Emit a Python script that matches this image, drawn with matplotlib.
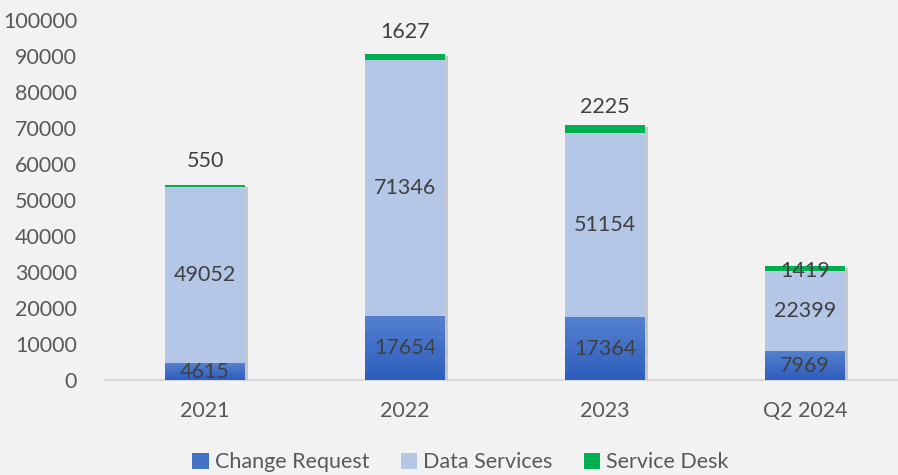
import matplotlib
matplotlib.use("Agg")
import matplotlib.pyplot as plt
import matplotlib.patheffects as pe
import numpy as np
from matplotlib.colors import LinearSegmentedColormap

categories = ["2021", "2022", "2023", "Q2 2024"]
change_request = [4615, 17654, 17364, 7969]
data_services = [49052, 71346, 51154, 22399]
service_desk = [550, 1627, 2225, 1419]
series_names = ["Change Request", "Data Services", "Service Desk"]
y_ticks = [0, 10000, 20000, 30000, 40000, 50000, 60000, 70000, 80000, 90000, 100000]
# manual offsets (pixels) of service desk labels above stack top
sd_label_offsets = [24, 22, 18, -5]

plt.rcParams['font.family'] = ['Lato', 'DejaVu Sans']
bg = "#F2F2F2"
fs = 15.5
fig = plt.figure(figsize=(8.98, 4.75), dpi=100, facecolor=bg)
ax = fig.add_axes([105/898, 95/475, 793/898, 360/475], facecolor=bg)

x = np.arange(len(categories))
w = 0.4
b1 = ax.bar(x, change_request, w, color="#4472C4", label=series_names[0], zorder=3)
bottom2 = np.array(change_request)
b2 = ax.bar(x, data_services, w, bottom=bottom2, color="#B4C7E7", label=series_names[1], zorder=3)
bottom3 = bottom2 + np.array(data_services)
b3 = ax.bar(x, service_desk, w, bottom=bottom3, color="#00B050", label=series_names[2], zorder=3)

# shadow behind full stack
for i in range(len(x)):
    tot = bottom3[i] + service_desk[i]
    r = plt.Rectangle((x[i] - w/2, 0), w, tot, facecolor="#BBBBBB", edgecolor="none",
                      zorder=2, transform=ax.transData)
    r.set_path_effects([pe.SimplePatchShadow(offset=(2.5, -1.5), shadow_rgbFace="#AAAAAA", alpha=0.6)])
    ax.add_patch(r)

# gradient for change request bars
cmap = LinearSegmentedColormap.from_list("cr", ["#2E5EBD", "#5580CF"])
grad = np.linspace(0, 1, 100).reshape(-1, 1)
for p in b1:
    x0, y0 = p.get_x(), p.get_y()
    im = ax.imshow(grad, cmap=cmap, aspect="auto", origin="lower",
                   extent=[x0, x0 + p.get_width(), y0, y0 + p.get_height()], zorder=3.5)
    im.set_clip_path(p)

lab_kw = dict(ha="center", va="center", fontsize=fs, color="#404040", zorder=5)
for i in range(len(x)):
    ax.text(x[i], change_request[i] / 2, str(change_request[i]), **lab_kw)
    ax.text(x[i], bottom2[i] + data_services[i] / 2, str(data_services[i]), **lab_kw)
    ax.annotate(str(service_desk[i]), (x[i], bottom3[i] + service_desk[i]),
                xytext=(0, sd_label_offsets[i]), textcoords="offset pixels", **lab_kw)

ax.set_xlim(-0.5, 3.465)
ax.set_ylim(0, 100000)
ax.set_yticks(y_ticks)
ax.set_yticklabels([str(t) for t in y_ticks])
ax.set_xticks(x)
ax.set_xticklabels(categories)
ax.tick_params(axis="both", length=0, labelsize=fs, labelcolor="#595959")
ax.tick_params(axis="y", pad=20)
ax.tick_params(axis="x", pad=15)
for s in ["top", "right", "left"]:
    ax.spines[s].set_visible(False)
ax.spines["bottom"].set_color("#D9D9D9")
ax.spines["bottom"].set_linewidth(1.5)
ax.spines["bottom"].set_zorder(1)

leg = fig.legend(handles=[b1, b2, b3], labels=series_names, loc="lower center",
                 bbox_to_anchor=(0.513, -0.035), ncol=3, frameon=False, fontsize=fs,
                 handlelength=0.75, handleheight=0.75, handletextpad=0.3, columnspacing=1.45,
                 labelcolor="#595959")
fig.savefig("out.png", dpi=100, facecolor=bg)
